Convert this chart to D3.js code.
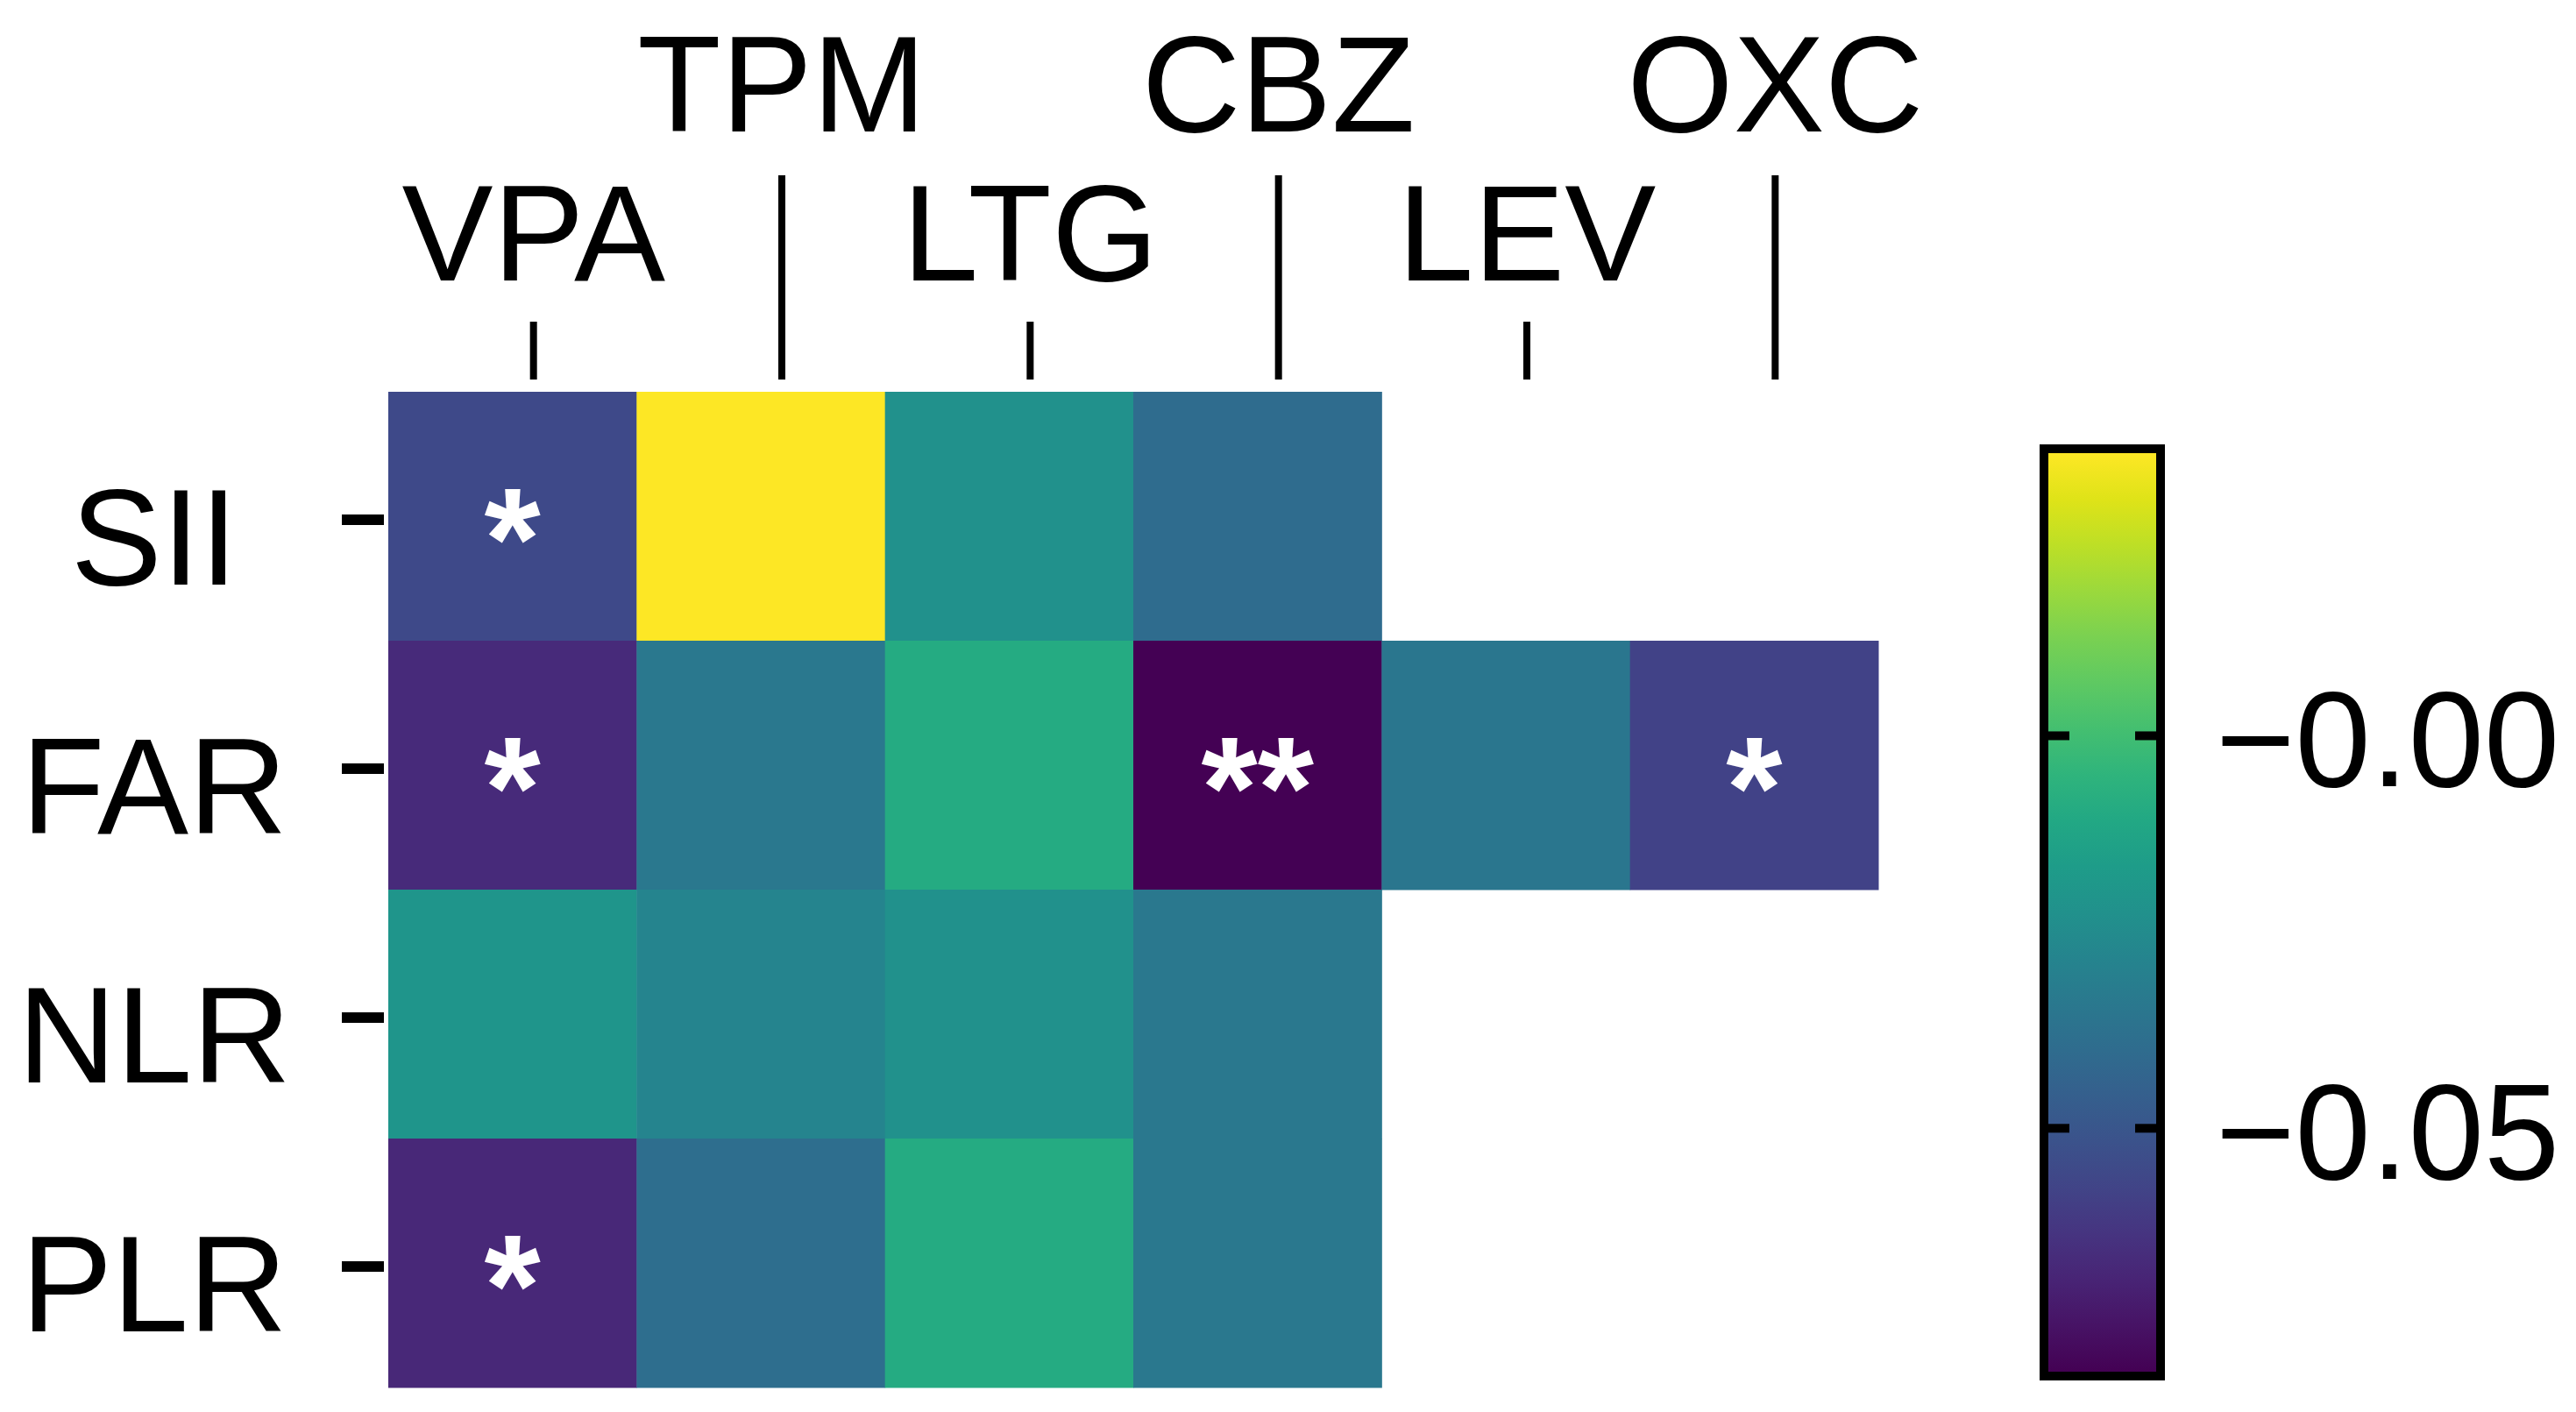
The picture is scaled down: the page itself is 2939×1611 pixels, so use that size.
<!DOCTYPE html>
<html>
<head>
<meta charset="utf-8">
<script src="https://cdn.jsdelivr.net/npm/d3@7"></script>
<style>
  html, body { margin: 0; padding: 0; background: #ffffff; }
  svg { display: block; font-family: "Liberation Sans", Arial, sans-serif; }
</style>
</head>
<body>
<svg id="chart" width="2939" height="1611"></svg>
<script>
// ---- data ----
const drugs = ["VPA", "TPM", "LTG", "CBZ", "LEV", "OXC"];
const markers = ["SII", "FAR", "NLR", "PLR"];
const valuesSII = [-0.055, 0.036, -0.0225, -0.040, null, null];
const valuesFAR = [-0.067, -0.034, -0.0096, -0.081, -0.035, -0.058];
const valuesNLR = [-0.020, -0.028, -0.0225, -0.034, null, null];
const valuesPLR = [-0.068, -0.039, -0.0096, -0.034, null, null];
const starsSII = ["*", "", "", "", "", ""];
const starsFAR = ["*", "", "", "**", "", "*"];
const starsNLR = ["", "", "", "", "", ""];
const starsPLR = ["*", "", "", "", "", ""];
const colorDomain = [-0.081, 0.036];
const cbTickValues = [0, -0.05];
const cbTickLabels = ["\u22120.00", "\u22120.05"];

const rows = [valuesSII, valuesFAR, valuesNLR, valuesPLR];
const starRows = [starsSII, starsFAR, starsNLR, starsPLR];
const cells = [];
markers.forEach((m, r) => drugs.forEach((d, c) => {
  cells.push({ marker: m, drug: d, value: rows[r][c], star: starRows[r][c] });
}));

// ---- layout ----
const svg = d3.select("#chart");
const x = d3.scaleBand().domain(drugs).range([443, 2143]);
const y = d3.scaleBand().domain(markers).range([447, 1583]);
const xAxisScale = d3.scaleBand().domain(drugs).range([443 + 24, 2143 + 24]);
const color = d3.scaleSequential(d3.interpolateViridis).domain(colorDomain);

// cells
svg.append("g").selectAll("rect")
  .data(cells.filter(d => d.value !== null))
  .join("rect")
  .attr("x", d => x(d.drug))
  .attr("y", d => y(d.marker))
  .attr("width", x.bandwidth() + 0.5)
  .attr("height", y.bandwidth() + 0.5)
  .attr("fill", d => color(d.value));

// significance stars
svg.append("g").selectAll("text")
  .data(cells.filter(d => d.star))
  .join("text")
  .attr("x", d => x(d.drug) + x.bandwidth() / 2)
  .attr("y", d => y(d.marker) + y.bandwidth() / 2)
  .attr("dy", "0.5em")
  .attr("text-anchor", "middle")
  .attr("font-size", 165)
  .attr("font-weight", "bold")
  .attr("fill", "#ffffff")
  .text(d => d.star);

// top axis (staggered labels)
const topG = svg.append("g");
const axisBase = 433;
drugs.forEach((d, i) => {
  const cx = xAxisScale(d) + xAxisScale.bandwidth() / 2;
  const high = i % 2 === 1;
  topG.append("line")
    .attr("x1", cx).attr("x2", cx)
    .attr("y1", axisBase).attr("y2", high ? 200 : 367)
    .attr("stroke", "#000").attr("stroke-width", 8);
  topG.append("text")
    .attr("x", cx)
    .attr("y", high ? 150 : 320)
    .attr("text-anchor", "middle")
    .attr("font-size", 156)
    .attr("fill", "#000")
    .text(d);
});

// left axis
const leftG = svg.append("g");
markers.forEach(m => {
  const cy = y(m) + y.bandwidth() / 2;
  leftG.append("line")
    .attr("x1", 390).attr("x2", 438)
    .attr("y1", cy + 4).attr("y2", cy + 4)
    .attr("stroke", "#000").attr("stroke-width", 12);
  leftG.append("text")
    .attr("x", 176)
    .attr("y", cy)
    .attr("dy", "0.5em")
    .attr("text-anchor", "middle")
    .attr("font-size", 156)
    .attr("fill", "#000")
    .text(m);
});

// colorbar
const cbX = 2337, cbW = 123, cbTop = 517, cbBottom = 1565;
const cbScale = d3.scaleLinear().domain(colorDomain).range([cbBottom, cbTop]);
const defs = svg.append("defs");
const grad = defs.append("linearGradient")
  .attr("id", "cbgrad").attr("x1", 0).attr("y1", 1).attr("x2", 0).attr("y2", 0);
d3.range(0, 1.0001, 0.05).forEach(t => {
  grad.append("stop").attr("offset", t).attr("stop-color", d3.interpolateViridis(t));
});
svg.append("rect")
  .attr("x", cbX).attr("y", cbTop)
  .attr("width", cbW).attr("height", cbBottom - cbTop)
  .attr("fill", "url(#cbgrad)");
svg.append("rect")
  .attr("x", cbX - 5).attr("y", cbTop - 5)
  .attr("width", cbW + 10).attr("height", cbBottom - cbTop + 10)
  .attr("fill", "none").attr("stroke", "#000").attr("stroke-width", 10);

const cbG = svg.append("g");
cbTickValues.forEach((v, i) => {
  const ty = cbScale(v);
  cbG.append("line")
    .attr("x1", cbX).attr("x2", cbX + 24)
    .attr("y1", ty).attr("y2", ty)
    .attr("stroke", "#000").attr("stroke-width", 10);
  cbG.append("line")
    .attr("x1", cbX + cbW - 24).attr("x2", cbX + cbW)
    .attr("y1", ty).attr("y2", ty)
    .attr("stroke", "#000").attr("stroke-width", 10);
  cbG.append("text")
    .attr("x", 2528)
    .attr("y", ty)
    .attr("dy", "0.37em")
    .attr("text-anchor", "start")
    .attr("font-size", 155)
    .attr("fill", "#000")
    .text(cbTickLabels[i]);
});
</script>
</body>
</html>
